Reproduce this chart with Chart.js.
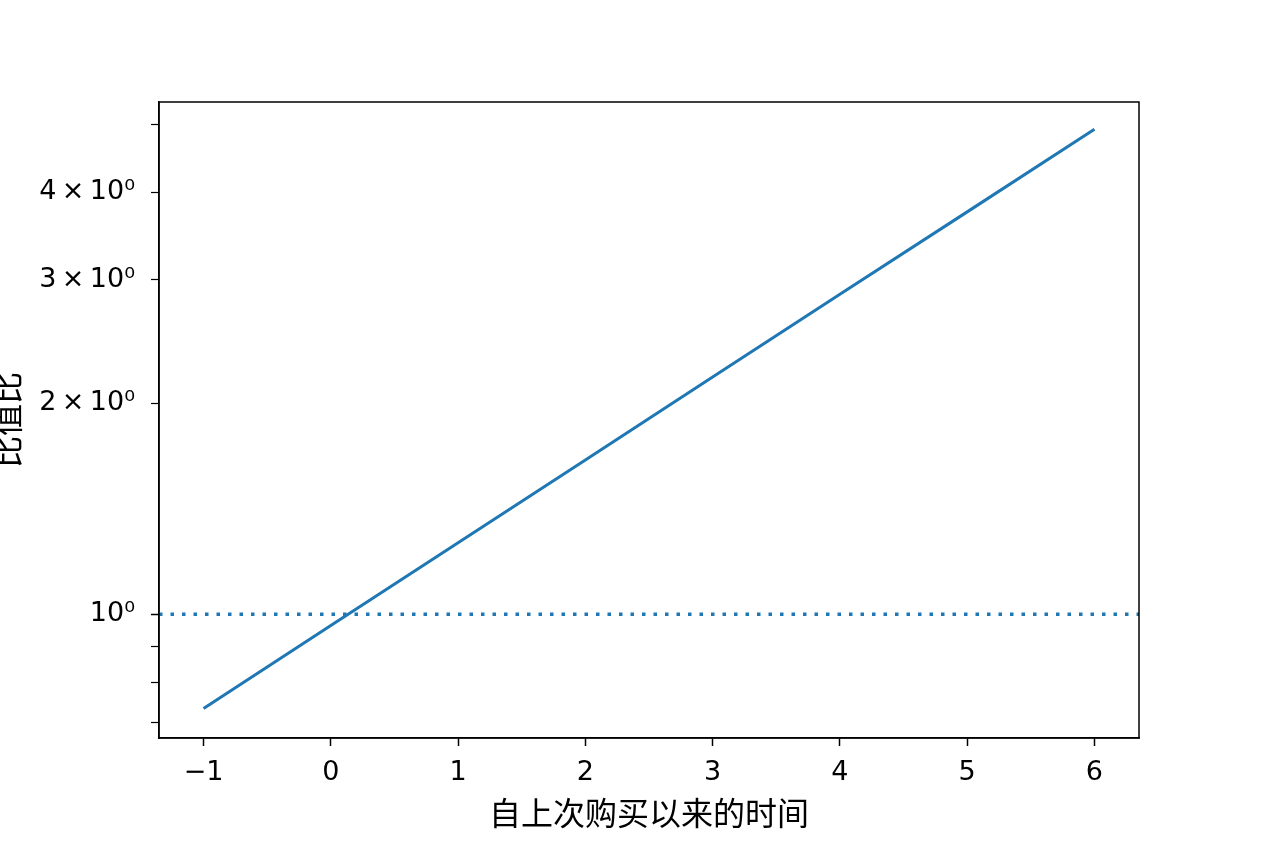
<!DOCTYPE html>
<html>
<head>
<meta charset="utf-8">
<script src="https://cdn.jsdelivr.net/npm/chart.js@4.4.1/dist/chart.umd.min.js"></script>
<style>
  html, body { margin: 0; padding: 0; background: #fff; }
  #wrap { width: 1264px; height: 843px; }
</style>
</head>
<body>
<div id="wrap"><canvas id="oddsChart" width="1264" height="843"></canvas></div>
<script>
// values
const timeSince = [-1, 0, 1, 2, 3, 4, 5, 6];
const oddsRatio = [0.734, 0.964, 1.265, 1.66, 2.18, 2.86, 3.75, 4.92];
const refLevel = 1;

const xTicks = [-1, 0, 1, 2, 3, 4, 5, 6];
const xTickLabels = ['−1', '0', '1', '2', '3', '4', '5', '6'];
const yTicks = [0.7, 0.8, 0.9, 1, 2, 3, 4, 5];
const yTickLabels = ['', '', '', '10⁰', '2\u2009×\u200910⁰', '3\u2009×\u200910⁰', '4\u2009×\u200910⁰', ''];

const xMin = -1.35, xMax = 6.35;
const yMin = 0.666, yMax = 5.38;

const blue = '#1f77b4';
const tickFont = { family: 'DejaVu Sans', size: 27 };
const titleFont = { family: 'Noto Sans CJK SC', size: 32, lineHeight: 1 };

// box round the plot, like the matplotlib spines
const frame = {
    id: 'frame',
    afterDatasetsDraw(chart) {
        const { ctx, chartArea: a } = chart;
        ctx.save();
        ctx.strokeStyle = '#000';
        ctx.lineWidth = 1.5;
        ctx.strokeRect(a.left, a.top, a.right - a.left, a.bottom - a.top);
        ctx.restore();
    }
};

const ctx = document.getElementById('oddsChart').getContext('2d');
new Chart(ctx, {
    type: 'line',
    data: {
        datasets: [{
            data: timeSince.map((x, i) => ({ x: x, y: oddsRatio[i] })),
            borderColor: blue,
            borderWidth: 3,
            pointRadius: 0,
            tension: 0
        }, {
            data: [{ x: xMin, y: refLevel }, { x: xMax, y: refLevel }],
            borderColor: blue,
            borderWidth: 3.5,
            borderDash: [3.5, 8],
            borderCapStyle: 'butt',
            pointRadius: 0
        }]
    },
    options: {
        responsive: false,
        animation: false,
        layout: { padding: { top: 102, right: 125, left: 0, bottom: 0 } },
        plugins: {
            legend: { display: false },
            tooltip: { enabled: false }
        },
        scales: {
            x: {
                type: 'linear',
                bounds: 'data',
                min: xMin,
                max: xMax,
                afterBuildTicks: s => { s.ticks = xTicks.map(v => ({ value: v })); },
                afterFit: s => { s.height = 105; },
                grid: { drawOnChartArea: false, drawTicks: true, tickLength: 8, tickWidth: 1.5, tickColor: '#000' },
                border: { display: true, color: '#000', width: 1.5 },
                ticks: {
                    font: tickFont,
                    color: '#000',
                    padding: 11,
                    maxRotation: 0,
                    autoSkip: false,
                    callback: (v) => xTickLabels[xTicks.indexOf(v)] ?? ''
                },
                title: {
                    display: true,
                    text: '自上次购买以来的时间',
                    font: titleFont,
                    color: '#000',
                    padding: { top: 0, bottom: 14 }
                }
            },
            y: {
                type: 'logarithmic',
                bounds: 'data',
                min: yMin,
                max: yMax,
                afterBuildTicks: s => { s.ticks = yTicks.map(v => ({ value: v })); },
                afterFit: s => { s.width = 159; },
                grid: {
                    drawOnChartArea: false, drawTicks: true, tickLength: 8, tickColor: '#000',
                    tickWidth: c => (yTicks[c.index] === 1 ? 1.5 : 1.2)
                },
                border: { display: true, color: '#000', width: 1.5 },
                ticks: {
                    font: tickFont,
                    color: '#000',
                    padding: 16,
                    autoSkip: false,
                    callback: (v, i) => yTickLabels[i] ?? ''
                },
                title: {
                    display: true,
                    text: '比值比',
                    font: titleFont,
                    color: '#000',
                    padding: { top: -9, bottom: 0 }
                }
            }
        }
    },
    plugins: [frame]
});
</script>
</body>
</html>
